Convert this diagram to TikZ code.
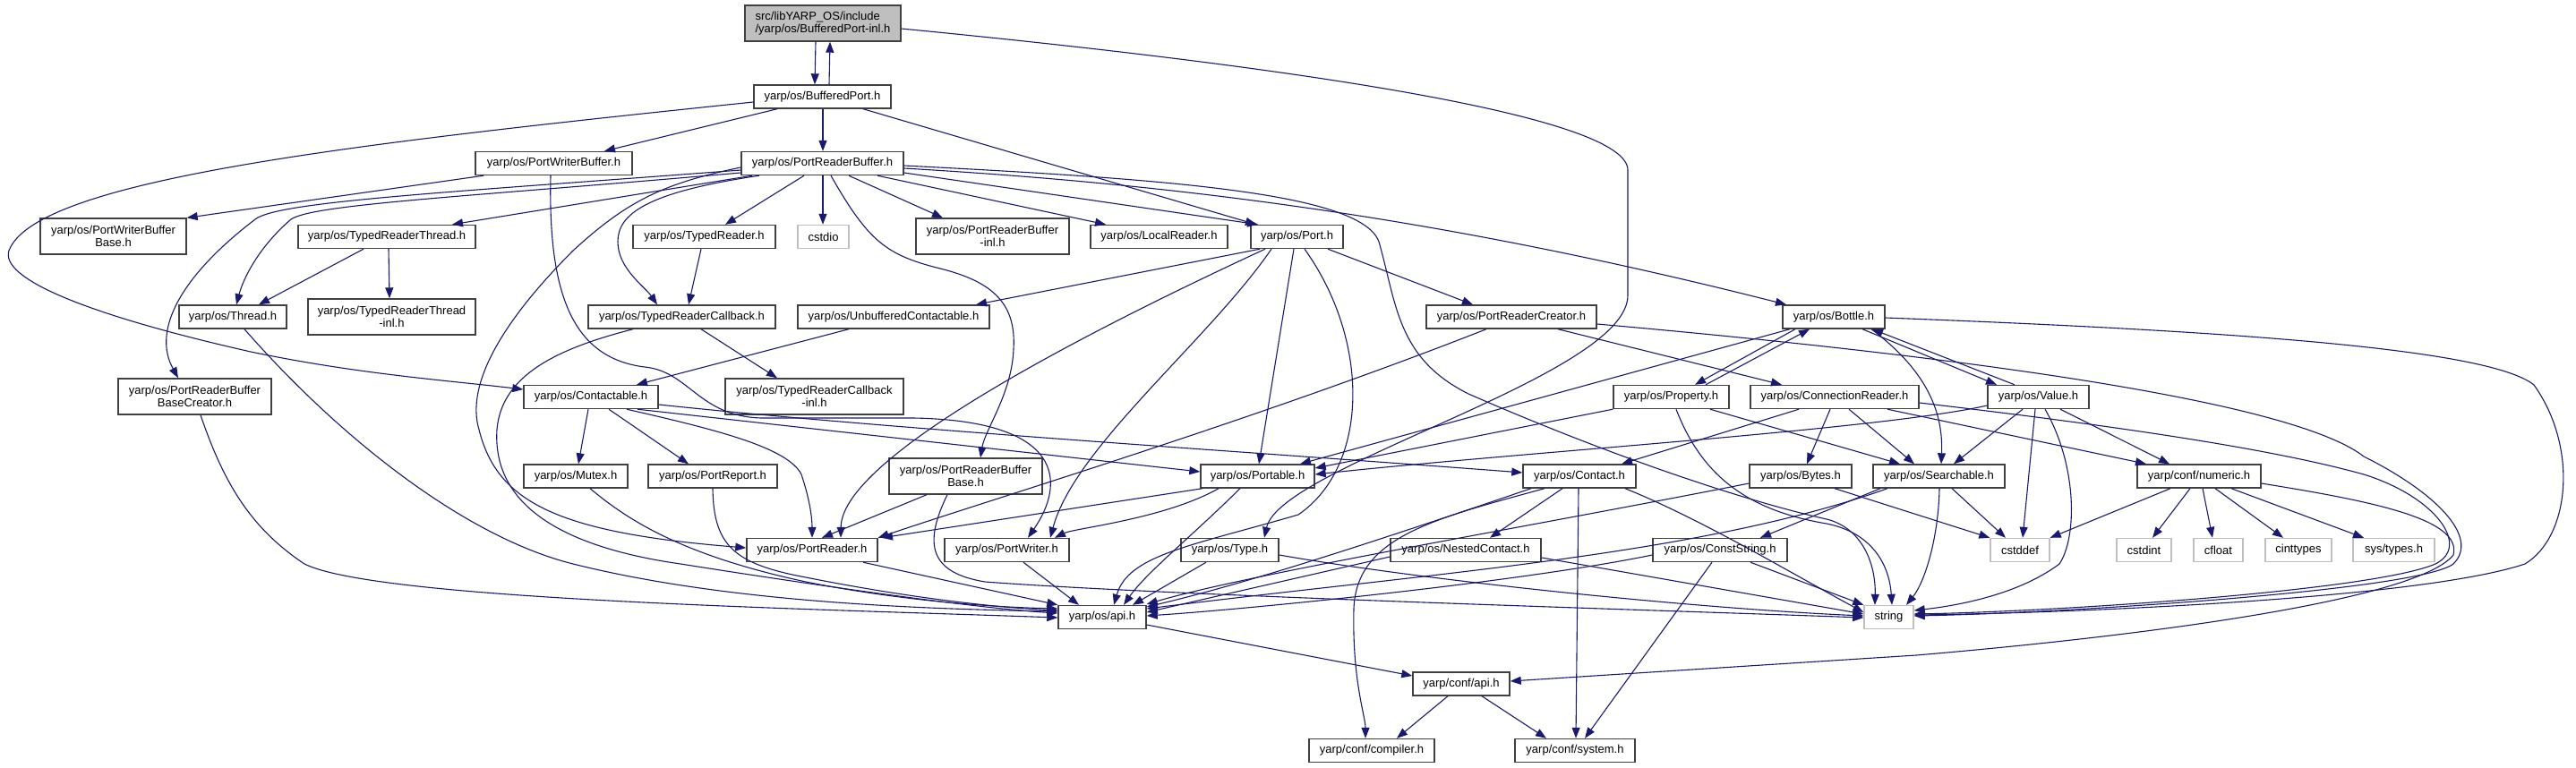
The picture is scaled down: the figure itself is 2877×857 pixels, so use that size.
\documentclass[tikz,border=0pt]{standalone}
\usepackage{fontspec}
\setmainfont{Liberation Sans}
\usetikzlibrary{arrows.meta}
\definecolor{edgeblue}{HTML}{191970}
\definecolor{topgray}{HTML}{BFBFBF}
\definecolor{lightbd}{HTML}{BFBFBF}
\newcommand\nfont{\fontsize{13}{13.5}\selectfont}
\begin{document}
\begin{tikzpicture}[x=1pt,y=-1pt,
  nd/.style={draw=black!75, line width=1.4pt, fill=white, inner sep=0pt, font=\nfont, align=center, minimum height=26pt},
  gr/.style={nd, draw=lightbd},
  e/.style={draw=edgeblue, line width=1.1pt, -{Triangle[length=12pt,width=9pt]}}]
\useasboundingbox (0,0) rectangle (2877,857);
% rank 0
\node[nd,fill=topgray,minimum width=174pt,minimum height=40pt,align=left] (top) at (919,26) {src/libYARP\_OS/include\\/yarp/os/BufferedPort-inl.h};
% rank 1
\node[nd,minimum width=153pt] (bp) at (918.5,108) {yarp/os/BufferedPort.h};
% rank 2
\node[nd,minimum width=175pt] (pwb) at (618.5,182.5) {yarp/os/PortWriterBuffer.h};
\node[nd,minimum width=181pt] (prb) at (918.5,182.5) {yarp/os/PortReaderBuffer.h};
% rank 3
\node[nd,minimum width=163pt,minimum height=40pt] (pwbb) at (126.5,264) {yarp/os/PortWriterBuffer\\Base.h};
\node[nd,minimum width=198pt] (trt) at (432,264.5) {yarp/os/TypedReaderThread.h};
\node[nd,minimum width=159pt] (tr) at (786.5,264.5) {yarp/os/TypedReader.h};
\node[gr,minimum width=57pt] (cstdio) at (919.5,264.5) {cstdio};
\node[nd,minimum width=171pt,minimum height=40pt] (prbinl) at (1108.5,264) {yarp/os/PortReaderBuffer\\-inl.h};
\node[nd,minimum width=153pt] (lr) at (1294.5,264.5) {yarp/os/LocalReader.h};
\node[nd,minimum width=103pt] (port) at (1448.5,264.5) {yarp/os/Port.h};
% rank 4
\node[nd,minimum width=120pt] (thread) at (260,354) {yarp/os/Thread.h};
\node[nd,minimum width=187pt,minimum height=40pt] (trtinl) at (437.5,354) {yarp/os/TypedReaderThread\\-inl.h};
\node[nd,minimum width=209pt] (trc) at (761.5,354) {yarp/os/TypedReaderCallback.h};
\node[nd,minimum width=214pt] (uc) at (998,354) {yarp/os/UnbufferedContactable.h};
\node[nd,minimum width=190pt] (prc) at (1688,354) {yarp/os/PortReaderCreator.h};
\node[nd,minimum width=114pt] (bottle) at (2048,354) {yarp/os/Bottle.h};
% rank 5
\node[nd,minimum width=171pt,minimum height=40pt] (prbbc) at (217.5,443) {yarp/os/PortReaderBuffer\\BaseCreator.h};
\node[nd,minimum width=150pt] (contactable) at (660,443.5) {yarp/os/Contactable.h};
\node[nd,minimum width=199pt,minimum height=40pt] (trcinl) at (909.5,443) {yarp/os/TypedReaderCallback\\-inl.h};
\node[nd,minimum width=129pt] (property) at (1866.5,443.5) {yarp/os/Property.h};
\node[nd,minimum width=188pt] (cr) at (2049,443.5) {yarp/os/ConnectionReader.h};
\node[nd,minimum width=113pt] (value) at (2276.5,443.5) {yarp/os/Value.h};
% rank 6
\node[nd,minimum width=116pt] (mutex) at (643,532) {yarp/os/Mutex.h};
\node[nd,minimum width=144pt] (preport) at (796,532) {yarp/os/PortReport.h};
\node[nd,minimum width=171pt,minimum height=40pt] (prbb) at (1078.5,532) {yarp/os/PortReaderBuffer\\Base.h};
\node[nd,minimum width=127pt] (portable) at (1404.5,532) {yarp/os/Portable.h};
\node[nd,minimum width=126pt] (contact) at (1764,532) {yarp/os/Contact.h};
\node[nd,minimum width=114pt] (bytes) at (2011,532) {yarp/os/Bytes.h};
\node[nd,minimum width=147pt] (searchable) at (2165.5,532) {yarp/os/Searchable.h};
\node[nd,minimum width=138pt] (numeric) at (2456,532) {yarp/conf/numeric.h};
% rank 7
\node[nd,minimum width=146pt] (preader) at (907,614.5) {yarp/os/PortReader.h};
\node[nd,minimum width=139pt] (pwriter) at (1124.5,614.5) {yarp/os/PortWriter.h};
\node[nd,minimum width=109pt] (type) at (1373.5,614.5) {yarp/os/Type.h};
\node[nd,minimum width=168pt] (nested) at (1637,614.5) {yarp/os/NestedContact.h};
\node[nd,minimum width=150pt] (cstring) at (1921,614.5) {yarp/os/ConstString.h};
\node[gr,minimum width=66pt] (cstddef) at (2256,614.5) {cstddef};
\node[gr,minimum width=61pt] (cstdint) at (2394.5,614.5) {cstdint};
\node[gr,minimum width=55pt] (cfloat) at (2477.5,614.5) {cfloat};
\node[gr,minimum width=74pt] (cinttypes) at (2567,614.5) {cinttypes};
\node[gr,minimum width=91pt] (systypes) at (2673.5,614.5) {sys/types.h};
% rank 8
\node[nd,minimum width=98pt] (osapi) at (1231,689.5) {yarp/os/api.h};
\node[gr,minimum width=55pt] (string) at (2109.5,689.5) {string};
% rank 9
\node[nd,minimum width=108pt] (confapi) at (1632,764) {yarp/conf/api.h};
% rank 10
\node[nd,minimum width=140pt] (compiler) at (1532,838.5) {yarp/conf/compiler.h};
\node[nd,minimum width=134pt] (system) at (1759,838.5) {yarp/conf/system.h};

% ---- edges ----
\draw[e] (top.south -| 911,0) -- (bp.north -| 910,0);
\draw[e] (bp.north -| 926,0) -- (top.south -| 927,0);
\draw[e] (top.east |- 0,32) .. controls (1450,75) and (1818,130) .. (1818,190) -- (1818,330) .. controls (1818,420) and (1430,520) .. (type.north -| 1412,0);
\draw[e] (bp.south -| 868,0) -- (pwb.north -| 675,0);
\draw[e] (bp.south -| 919,0) -- (prb.north -| 919,0);
\draw[e] (bp.south -| 964,0) -- (port.north -| 1403,0);
\draw[e] (bp.west |- 0,114) .. controls (400,160) and (40,200) .. (10,280) .. controls (0,310) and (90,350) .. (280,393) .. controls (400,418) and (500,425) .. (contactable.west |- 0,435);
\draw[e] (pwb.south -| 540,0) -- (pwbb.north east);
\draw[e] (pwb.south -| 615,0) .. controls (612,330) and (640,400) .. (720,410) .. controls (770,415) and (780,465) .. (850,467) -- (1020,467) .. controls (1190,470) and (1190,540) .. (pwriter.north -| 1148,0);
% PortReaderBuffer
\draw[e] (prb.west |- 0,190) .. controls (500,215) and (310,225) .. (285,245) .. controls (200,310) and (170,370) .. (prbbc.north -| 199,0);
\draw[e] (prb.west |- 0,193) .. controls (520,220) and (350,228) .. (325,245) .. controls (290,275) and (272,310) .. (thread.north -| 264,0);
\draw[e] (prb.south -| 840,0) -- (trt.north -| 505,0);
\draw[e] (prb.south -| 848,0) .. controls (720,215) and (690,240) .. (690,270) .. controls (690,300) and (720,320) .. (trc.north -| 734,0);
\draw[e] (prb.west |- 0,187) .. controls (740,205) and (700,225) .. (640,280) .. controls (560,360) and (520,430) .. (535,480) .. controls (555,560) and (620,595) .. (preader.west |- 0,612);
\draw[e] (prb.south -| 898,0) -- (tr.north -| 810,0);
\draw[e] (prb.south -| 919,0) -- (cstdio.north -| 919,0);
\draw[e] (prb.south -| 948,0) -- (prbinl.north -| 1053,0);
\draw[e] (prb.south -| 980,0) -- (lr.north -| 1235,0);
\draw[e] (prb.east |- 0,193) -- (port.north -| 1405,0);
\draw[e] (prb.east |- 0,188) .. controls (1300,205) and (1600,240) .. (bottle.north -| 1995,0);
\draw[e] (prb.east |- 0,185) .. controls (1300,200) and (1520,215) .. (1540,270) .. controls (1560,340) and (1560,400) .. (1640,440) .. controls (1800,510) and (1950,560) .. (2040,580) .. controls (2080,590) and (2095,630) .. (string.north -| 2094,0);
\draw[e] (prb.south -| 928,0) .. controls (970,270) and (990,285) .. (1050,300) .. controls (1110,315) and (1135,340) .. (1132,390) .. controls (1130,440) and (1100,480) .. (prbb.north -| 1095,0);
% typed reader family
\draw[e] (tr.south -| 783,0) -- (trc.north -| 769,0);
\draw[e] (trc.south -| 783,0) -- (trcinl.north -| 868,0);
\draw[e] (trc.south -| 707,0) .. controls (620,390) and (560,420) .. (555,480) .. controls (550,560) and (620,610) .. (760,630) .. controls (950,660) and (1100,680) .. (osapi.west |- 0,685);
\draw[e] (trt.south -| 406,0) -- (thread.north -| 289,0);
\draw[e] (trt.south -| 434,0) -- (trtinl.north -| 435,0);
\draw[e] (thread.south -| 273,0) .. controls (380,490) and (520,600) .. (640,630) .. controls (800,670) and (1000,680) .. (osapi.west |- 0,683);
\draw[e] (prbbc.south -| 224,0) .. controls (250,540) and (280,590) .. (340,630) .. controls (420,670) and (900,680) .. (osapi.west |- 0,690);
% Contactable
\draw[e] (contactable.south -| 657,0) -- (mutex.north -| 646,0);
\draw[e] (contactable.south -| 680,0) -- (preport.north -| 769,0);
\draw[e] (contactable.south -| 700,0) .. controls (800,480) and (880,500) .. (895,530) .. controls (905,560) and (907,580) .. (preader.north -| 907,0);
\draw[e] (contactable.south -| 712,0) -- (portable.west |- 0,527);
\draw[e] (contactable.east |- 0,452) .. controls (1000,480) and (1400,505) .. (contact.west |- 0,528);
\draw[e] (uc.south -| 948,0) -- (contactable.north -| 711,0);
% Port
\draw[e] (port.south -| 1407,0) -- (uc.north -| 1090,0);
\draw[e] (port.south -| 1413,0) .. controls (1150,400) and (940,520) .. (preader.north -| 939,0);
\draw[e] (port.south -| 1420,0) .. controls (1350,380) and (1200,500) .. (pwriter.north -| 1173,0);
\draw[e] (port.south -| 1445,0) -- (portable.north -| 1406,0);
\draw[e] (port.south -| 1483,0) -- (prc.north -| 1645,0);
\draw[e] (port.south -| 1457,0) .. controls (1530,380) and (1530,520) .. (1450,575) .. controls (1330,610) and (1260,620) .. (osapi.north -| 1244,0);
% PortReaderCreator
\draw[e] (prc.south -| 1660,0) .. controls (1400,470) and (1100,560) .. (preader.north east);
\draw[e] (prc.south -| 1740,0) -- (cr.north -| 1990,0);
\draw[e] (prc.east |- 0,362) .. controls (2100,390) and (2550,440) .. (2640,510) .. controls (2720,550) and (2770,600) .. (2740,630) .. controls (2700,660) and (2300,685) .. (string.east |- 0,688);
% Bottle
\draw[e] (bottle.south -| 2005,0) -- (property.north -| 1893,0);
\draw[e] (property.north -| 1905,0) -- (bottle.south -| 2021,0);
\draw[e] (bottle.south -| 1999,0) -- (portable.north -| 1452,0);
\draw[e] (bottle.south -| 2090,0) .. controls (2160,420) and (2170,470) .. (searchable.north -| 2168,0);
\draw[e] (bottle.south -| 2080,0) -- (value.north -| 2230,0);
\draw[e] (value.north -| 2250,0) -- (bottle.south -| 2091,0);
\draw[e] (bottle.east |- 0,355) .. controls (2500,370) and (2780,390) .. (2830,430) .. controls (2880,500) and (2870,600) .. (2820,630) .. controls (2700,670) and (2300,685) .. (string.east |- 0,687);
% Property
\draw[e] (property.south west) -- (portable.east |- 0,523);
\draw[e] (property.south -| 1910,0) -- (searchable.north -| 2122,0);
\draw[e] (property.south -| 1872,0) .. controls (1900,530) and (1950,570) .. (2040,585) .. controls (2090,595) and (2110,630) .. (string.north -| 2113,0);
% ConnectionReader
\draw[e] (cr.south -| 2009,0) -- (contact.north -| 1811,0);
\draw[e] (cr.south -| 2044,0) -- (bytes.north -| 2018,0);
\draw[e] (cr.south -| 2065,0) -- (searchable.north -| 2138,0);
\draw[e] (cr.south -| 2108,0) -- (numeric.north -| 2397,0);
\draw[e] (cr.east |- 0,450) .. controls (2400,480) and (2550,505) .. (2640,530) .. controls (2720,555) and (2760,610) .. (2720,630) .. controls (2650,660) and (2300,683) .. (string.east |- 0,686);
% Value
\draw[e] (value.south -| 2259,0) -- (searchable.north -| 2182,0);
\draw[e] (value.south -| 2301,0) -- (numeric.north -| 2423,0);
\draw[e] (value.south -| 2273,0) -- (cstddef.north -| 2259,0);
\draw[e] (value.south -| 2284,0) .. controls (2320,520) and (2320,600) .. (2300,630) .. controls (2260,660) and (2200,675) .. (string.east |- 0,682);
\draw[e] (value.west |- 0,453) .. controls (2100,480) and (1700,505) .. (portable.east |- 0,530);
% Searchable
\draw[e] (searchable.south -| 2100,0) -- (cstring.north -| 1966,0);
\draw[e] (searchable.south -| 2180,0) -- (cstddef.north -| 2240,0);
\draw[e] (searchable.south -| 2166,0) .. controls (2165,600) and (2150,650) .. (string.north -| 2129,0);
\draw[e] (searchable.south -| 2108,0) .. controls (1900,620) and (1600,640) .. (osapi.east |- 0,680);
% Bytes
\draw[e] (bytes.south -| 2049,0) -- (cstddef.north west);
\draw[e] (bytes.west |- 0,540) .. controls (1700,590) and (1400,640) .. (osapi.east |- 0,675);
% Contact
\draw[e] (contact.south -| 1745,0) -- (nested.north -| 1664,0);
\draw[e] (contact.south -| 1763,0) -- (system.north -| 1760,0);
\draw[e] (contact.south -| 1725,0) .. controls (1600,580) and (1515,600) .. (1512,680) .. controls (1510,760) and (1525,800) .. (compiler.north -| 1525,0);
\draw[e] (contact.south -| 1815,0) .. controls (1900,580) and (2000,640) .. (string.west |- 0,684);
\draw[e] (contact.south -| 1710,0) .. controls (1550,600) and (1400,650) .. (osapi.east |- 0,678);
% NestedContact, ConstString, Type
\draw[e] (nested.west |- 0,622) -- (osapi.east |- 0,684);
\draw[e] (nested.east |- 0,623) -- (string.west |- 0,686);
\draw[e] (cstring.west |- 0,620) .. controls (1700,650) and (1400,680) .. (osapi.east |- 0,688);
\draw[e] (cstring.south -| 1955,0) -- (string.north west);
\draw[e] (cstring.south -| 1912,0) -- (system.north -| 1770,0);
\draw[e] (type.south -| 1347,0) -- (osapi.north -| 1265,0);
\draw[e] (type.east |- 0,620) .. controls (1600,650) and (1900,680) .. (string.west |- 0,688);
% Portable
\draw[e] (portable.south -| 1343,0) -- (preader.north -| 985,0);
\draw[e] (portable.south -| 1361,0) .. controls (1300,580) and (1200,590) .. (pwriter.north -| 1178,0);
\draw[e] (portable.south -| 1385,0) .. controls (1330,600) and (1280,640) .. (osapi.north -| 1255,0);
% PortReaderBufferBase
\draw[e] (prbb.south -| 1035,0) -- (preader.north -| 918,0);
\draw[e] (prbb.south -| 1058,0) .. controls (1030,610) and (1040,640) .. (1100,650) .. controls (1300,665) and (1800,680) .. (string.west |- 0,690);
% PortReader, PortWriter, Mutex, PortReport
\draw[e] (preader.south -| 964,0) -- (osapi.north west);
\draw[e] (pwriter.south -| 1143,0) -- (osapi.north -| 1205,0);
\draw[e] (mutex.south -| 659,0) .. controls (700,580) and (760,620) .. (900,650) .. controls (1000,670) and (1100,678) .. (osapi.west |- 0,680);
\draw[e] (preport.south -| 796,0) .. controls (797,610) and (820,630) .. (900,645) .. controls (1000,665) and (1100,678) .. (osapi.west |- 0,682);
% api and numeric
\draw[e] (osapi.east |- 0,698) -- (confapi.west |- 0,755);
\draw[e] (numeric.east |- 0,540) .. controls (2650,560) and (2750,580) .. (2740,620) .. controls (2700,670) and (2400,710) .. (2140,732) -- (confapi.east |- 0,761);
\draw[e] (numeric.south -| 2424,0) -- (cstddef.north east);
\draw[e] (numeric.south -| 2446,0) -- (cstdint.north -| 2404,0);
\draw[e] (numeric.south -| 2460,0) -- (cfloat.north -| 2471,0);
\draw[e] (numeric.south -| 2474,0) -- (cinttypes.north -| 2550,0);
\draw[e] (numeric.south -| 2492,0) -- (systypes.north -| 2640,0);
\draw[e] (confapi.south -| 1617,0) -- (compiler.north -| 1560,0);
\draw[e] (confapi.south -| 1655,0) -- (system.north -| 1727,0);
\end{tikzpicture}
\end{document}
